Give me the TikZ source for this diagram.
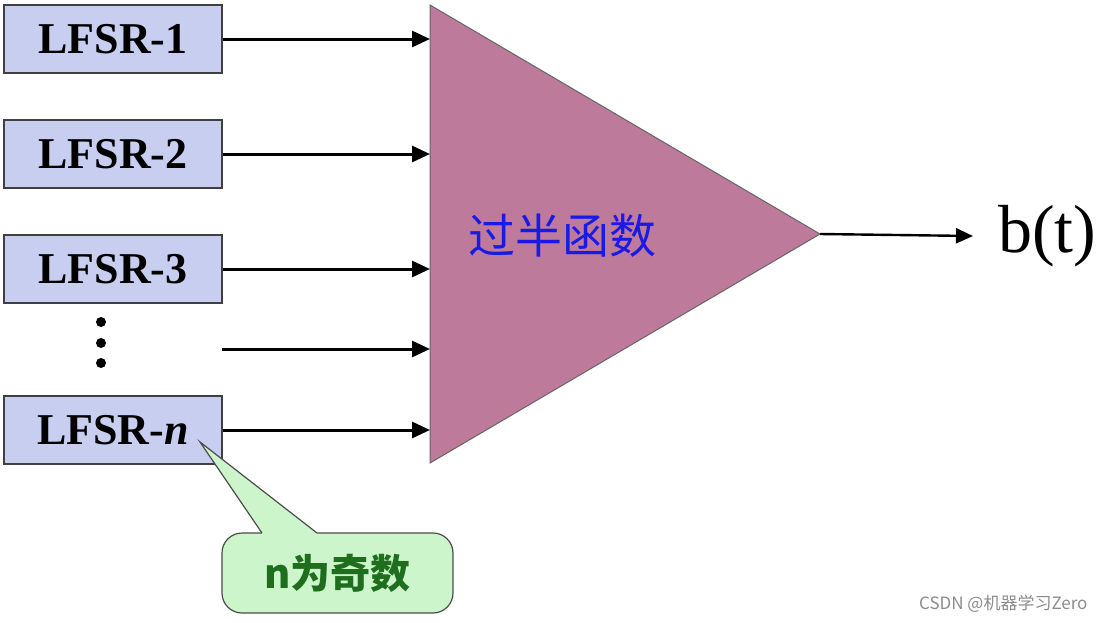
\documentclass[tikz,border=0pt]{standalone}
\usepackage{fontspec}
\setmainfont{Liberation Serif}
\newfontfamily\cjk{Noto Sans CJK SC}
\usetikzlibrary{arrows.meta}
\definecolor{boxblue}{RGB}{200,206,240}
\definecolor{mauve}{RGB}{190,122,155}
\definecolor{notegreen}{RGB}{204,245,204}
\definecolor{notetext}{RGB}{30,110,30}
\definecolor{funcblue}{RGB}{26,26,230}
\begin{document}
\begin{tikzpicture}[x=1pt,y=-1pt,
  lfsr/.style={draw=black!75, line width=1.2pt, fill=boxblue, minimum width=218pt,
    minimum height=68pt, inner sep=0pt, font=\fontsize{44}{44}\selectfont\bfseries},
  arr/.style={line width=3pt, -{Triangle[length=18pt,width=16pt]}},
  dot/.style={circle, fill=black, inner sep=0pt, minimum size=10pt},
]
\useasboundingbox (0,0) rectangle (1104,622);
% LFSR boxes
\node[lfsr] (l1) at (113,39) {LFSR-1};
\node[lfsr] (l2) at (113,154) {LFSR-2};
\node[lfsr] (l3) at (113,269) {LFSR-3};
\node[lfsr] (ln) at (113,430) {LFSR-\textit{n}};
% dots
\node[dot] (d1) at (101,322) {};
\node[dot] (d2) at (101,343) {};
\node[dot] (d3) at (101,363) {};
% triangle (majority function)
\coordinate (tA) at (430,5);
\coordinate (tB) at (430,463);
\coordinate (tC) at (820,234);
\draw[fill=mauve, draw=black!60, line width=1pt] (tA) -- (tC) -- (tB) -- cycle;
\node[font=\cjk\fontsize{47}{47}\selectfont, text=funcblue] (func) at (562,236) {过半函数};
% input arrows
\draw[arr] (l1.east) -- (l1.east -| tA);
\draw[arr] (l2.east) -- (l2.east -| tA);
\draw[arr] (l3.east) -- (l3.east -| tA);
\coordinate (ds) at (222,349);
\draw[arr] (ds) -- (ds -| tA);
\draw[arr] (ln.east) -- (ln.east -| tA);
% output
\node[font=\fontsize{68}{68}\selectfont, anchor=west, inner xsep=25pt, inner ysep=0pt] (bt) at (973,236) {b(t)};
\draw[line width=2.4pt, -{Triangle[length=17pt,width=15pt]}] (tC) -- (bt.west);
% callout
\node[draw=black!70, fill=notegreen, rounded corners=20pt, minimum width=231pt,
  minimum height=80pt, line width=1.2pt, text=notetext,
  font=\cjk\bfseries\fontsize{40}{40}\selectfont] (note) at (337.5,573) {n为奇数};
\coordinate (tip) at (200,442);
\coordinate (p1) at (262,533);
\coordinate (p2) at (317,533);
\fill[notegreen] (p1) -- (tip) -- (p2) -- (317,537) -- (262,537) -- cycle;
\draw[draw=black!70, line width=1.2pt, line join=miter] (p1) -- (tip) -- (p2);
% watermark
\node[font=\cjk\fontsize{17}{17}\selectfont, text=black!45, anchor=east] (wm) at (1091,604) {CSDN @机器学习Zero};
\end{tikzpicture}
\end{document}
